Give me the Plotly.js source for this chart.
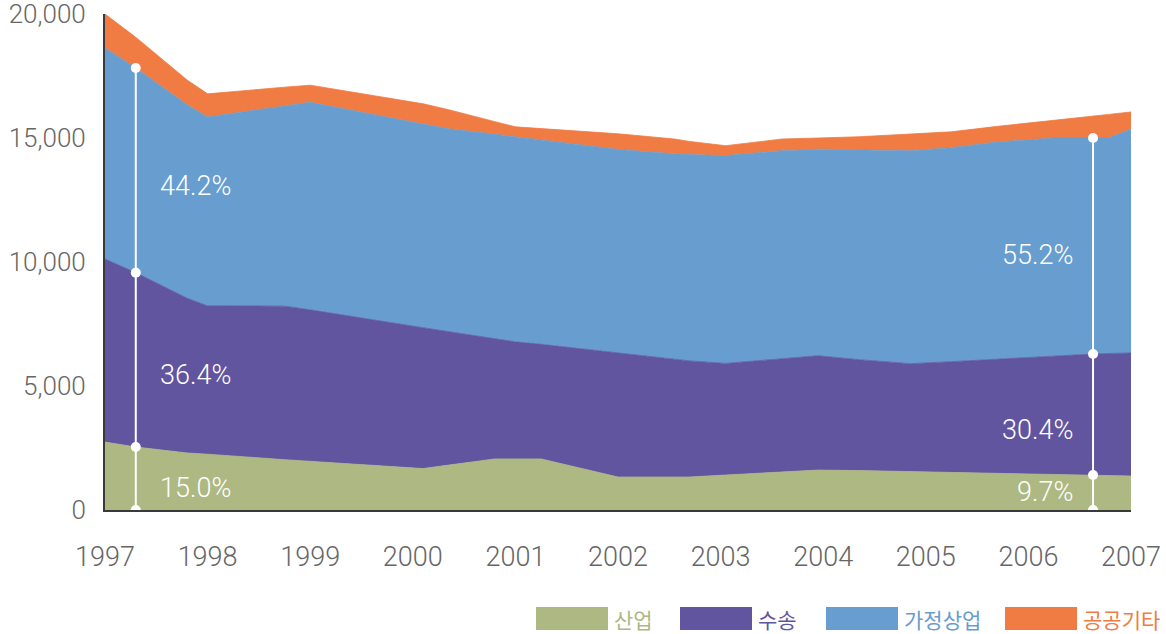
<!DOCTYPE html>
<html>
<head>
<meta charset="utf-8">
<script src="https://cdn.plot.ly/plotly-3.0.1.min.js"></script>
<style>
html,body{margin:0;padding:0;background:#fff;}
#chart{width:1166px;height:634px;}
</style>
</head>
<body>
<div id="chart"></div>
<script>
// ---- data ----
const years = [1997, 1997.3, 1997.8, 1998, 1998.75, 1999, 2000.1, 2000.35, 2000.8, 2001, 2001.25, 2002, 2002.55, 2002.7, 2003.05, 2003.6, 2003.95, 2004.35, 2004.85, 2005.25, 2005.7, 2006.25, 2006.63, 2006.78, 2007];
const industry    = [2740, 2540, 2300, 2250, 2030, 1960, 1670, 1810, 2060, 2060, 2060, 1330, 1330, 1330, 1410, 1530, 1610, 1590, 1550, 1520, 1480, 1440, 1410, 1400, 1370];
const transport   = [7380, 7030, 6240, 5980, 6190, 6110, 5680, 5390, 4860, 4720, 4620, 5010, 4760, 4680, 4500, 4570, 4610, 4470, 4350, 4460, 4610, 4760, 4880, 4910, 4960];
const residential = [8510, 8250, 7800, 7620, 8070, 8370, 8210, 8170, 8230, 8270, 8250, 8200, 8270, 8320, 8380, 8390, 8330, 8460, 8590, 8630, 8750, 8800, 8710, 8690, 9030];
const publicOther = [1370, 1240, 1000, 930, 760, 690, 820, 770, 510, 400, 450, 630, 600, 530, 400, 470, 450, 530, 670, 640, 630, 700, 880, 950, 690];

const seriesNames = ['산업', '수송', '가정상업', '공공기타'];
const xTickVals = [1997, 1998, 1999, 2000, 2001, 2002, 2003, 2004, 2005, 2006, 2007];
const xTickText = ['1997', '1998', '1999', '2000', '2001', '2002', '2003', '2004', '2005', '2006', '2007'];
const yTickVals = [0, 5000, 10000, 15000, 20000];
const yTickText = ['0', '5,000', '10,000', '15,000', '20,000'];

// share labels at the two marker positions
const markerIdx = [1, 22];
const leftShares  = ['15.0%', '36.4%', '44.2%'];
const rightShares = ['9.7%', '30.4%', '55.2%'];

// ---- style ----
const colors = ['#adb883', '#61559f', '#679dcf', '#f07b43'];
const FONT = 'Roboto, "Noto Sans CJK KR", sans-serif';
const M = {l: 105, r: 35, t: 14, b: 124};
const W = 1166, H = 634;
const pw = W - M.l - M.r, ph = H - M.t - M.b;
const px2x = px => (px - M.l) / pw;
const px2y = py => (H - M.b - py) / ph;

const series = [industry, transport, residential, publicOther];
const traces = series.map((vals, i) => ({
  type: 'scatter', mode: 'lines', x: years, y: vals, name: seriesNames[i],
  stackgroup: 'one', fillcolor: colors[i],
  line: {color: colors[i], width: 0.8, shape: 'linear'},
  hoverinfo: 'x+y+name'
}));

// vertical white marker lines, markers on stacked boundaries
markerIdx.forEach(k => {
  const c1 = industry[k];
  const c2 = c1 + transport[k];
  const c3 = c2 + residential[k];
  traces.push({
    type: 'scatter', mode: 'lines+markers',
    x: [years[k], years[k], years[k], years[k]],
    y: [0, c1, c2, c3],
    line: {color: '#ffffff', width: 2},
    marker: {color: '#ffffff', size: 10},
    showlegend: false, hoverinfo: 'skip'
  });
});

const annotations = [];
const pctFont = {family: FONT, size: 27, color: '#ffffff', weight: 300};
const leftY = [900, 5450, 13050];
const rightY = [720, 3230, 10300];
leftShares.forEach((t, i) => annotations.push({
  x: 1997.52, y: leftY[i], xref: 'x', yref: 'y', text: t, showarrow: false,
  xanchor: 'left', yanchor: 'middle', font: pctFont
}));
rightShares.forEach((t, i) => annotations.push({
  x: 2006.45, y: rightY[i], xref: 'x', yref: 'y', text: t, showarrow: false,
  xanchor: 'right', yanchor: 'middle', font: pctFont
}));

// custom legend (wide swatches + coloured text)
const shapes = [];
const legendSwatchX = [536, 680, 826, 1005];
const swW = 72, swTop = 607, swBot = 630;
seriesNames.forEach((n, i) => {
  shapes.push({
    type: 'rect', xref: 'paper', yref: 'paper',
    x0: px2x(legendSwatchX[i]), x1: px2x(legendSwatchX[i] + swW),
    y0: px2y(swBot), y1: px2y(swTop),
    fillcolor: colors[i], line: {width: 0}
  });
  annotations.push({
    xref: 'paper', yref: 'paper', x: px2x(legendSwatchX[i] + swW + 4), y: px2y((swTop + swBot) / 2),
    xanchor: 'left', yanchor: 'middle', showarrow: false, text: n,
    font: {family: '"Noto Sans CJK KR", sans-serif', size: 21, color: colors[i]}
  });
});

const layout = {
  width: W, height: H,
  margin: M,
  paper_bgcolor: '#ffffff', plot_bgcolor: '#ffffff',
  showlegend: false,
  font: {family: FONT, color: '#666666'},
  xaxis: {
    range: [1997, 2007], tickvals: xTickVals, ticktext: xTickText,
    showgrid: false, zeroline: false, showline: true, linecolor: '#3a3a3a', linewidth: 2,
    ticks: '', ticklabelstandoff: 22, ticklabeloverflow: 'allow',
    tickfont: {family: FONT, size: 27, color: '#666666', weight: 300}
  },
  yaxis: {
    range: [0, 20000], tickvals: yTickVals, ticktext: yTickText,
    showgrid: false, zeroline: false, showline: true, linecolor: '#3a3a3a', linewidth: 2,
    ticks: '', ticklabelstandoff: 12, ticklabeloverflow: 'allow',
    tickfont: {family: FONT, size: 26, color: '#666666', weight: 300}
  },
  shapes: shapes,
  annotations: annotations
};

Plotly.newPlot('chart', traces, layout, {displayModeBar: false, staticPlot: true});
</script>
</body>
</html>
